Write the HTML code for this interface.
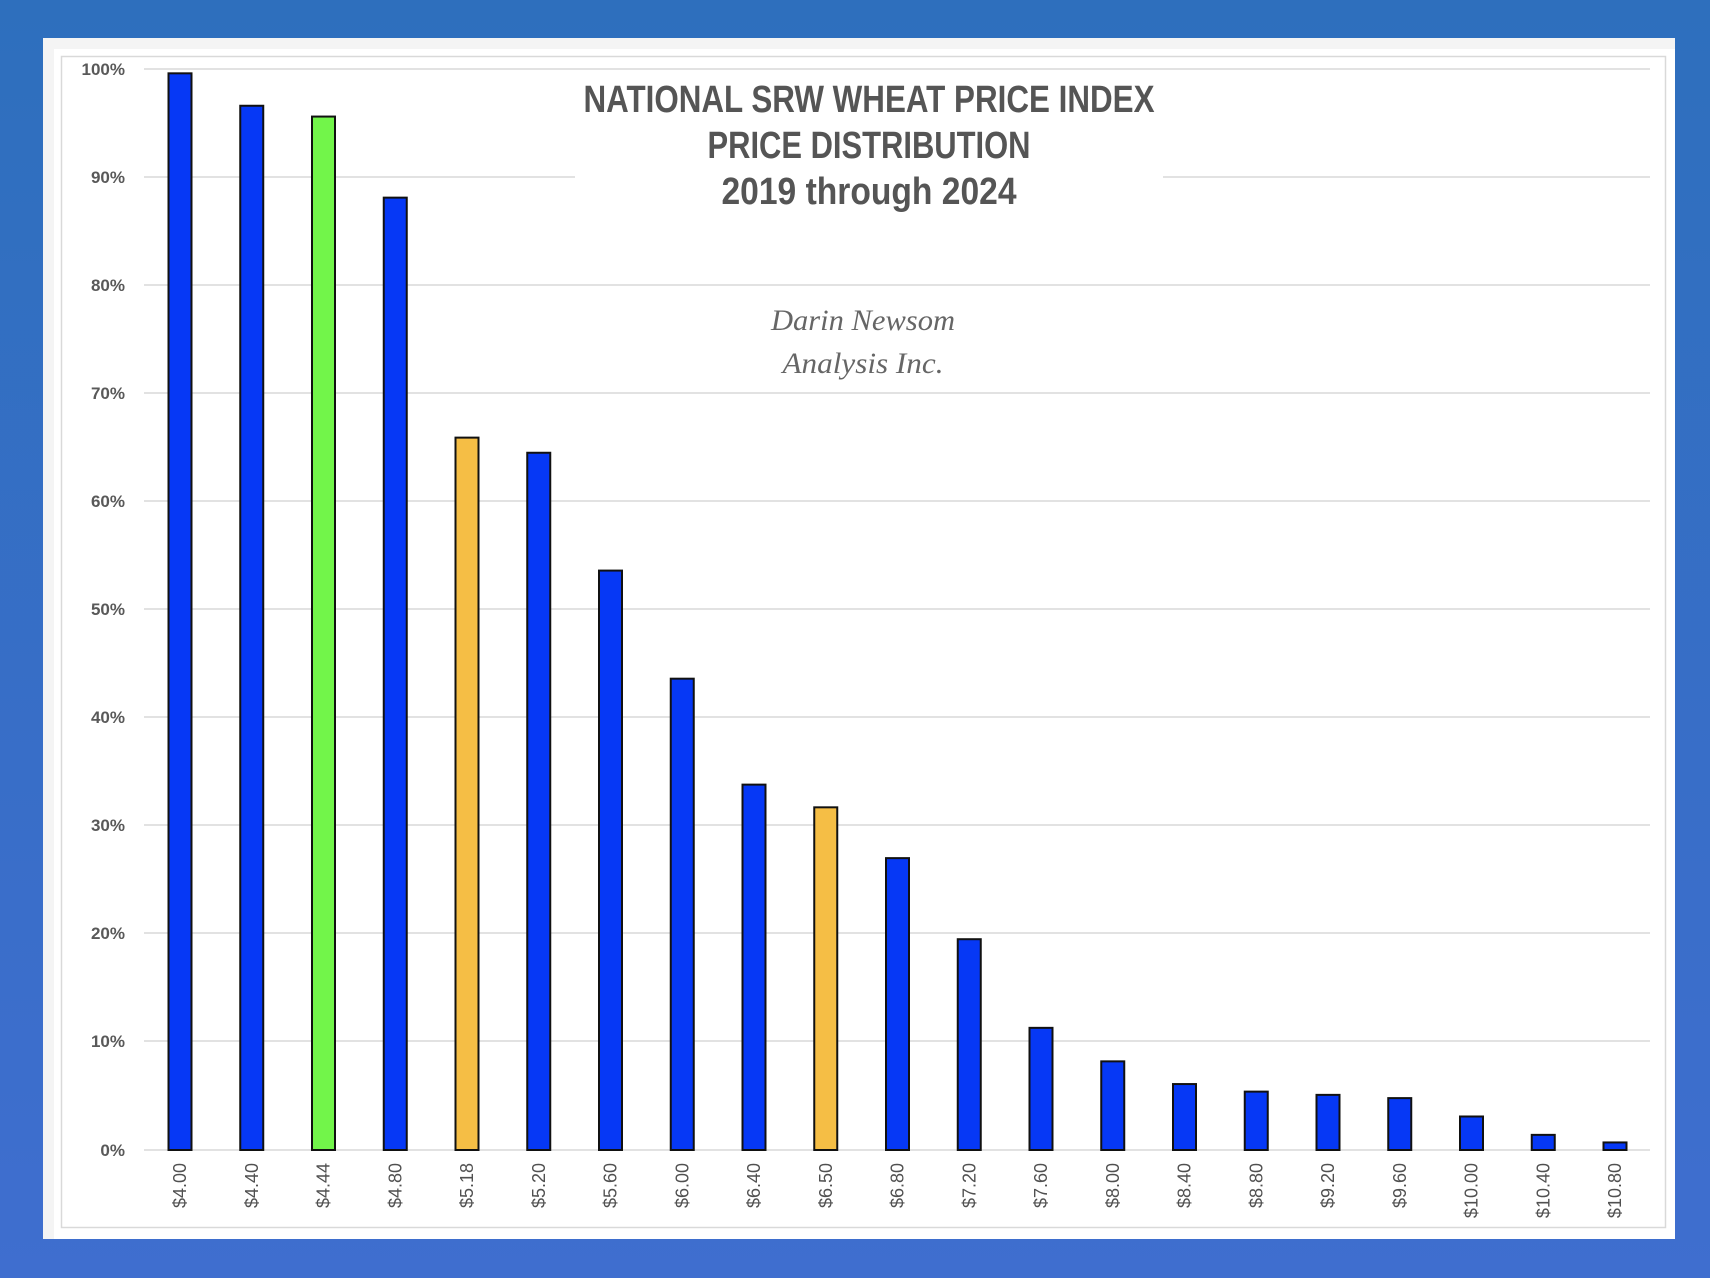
<!DOCTYPE html>
<html><head><meta charset="utf-8"><style>
html,body{margin:0;padding:0;}
body{width:1710px;height:1278px;background:linear-gradient(#2E6FBD,#3F6ECF);overflow:hidden;}
</style></head><body>
<svg width="1710" height="1278" xmlns="http://www.w3.org/2000/svg" style="position:absolute;left:0;top:0">
<rect x="43" y="38" width="1632" height="1201" fill="#f4f4f4"/>
<rect x="54" y="49" width="1621" height="1190" fill="#fff"/>
<rect x="61.5" y="56.5" width="1604" height="1171" fill="none" stroke="#d9d9d9" stroke-width="1.5"/>
<g stroke="#d9d9d9" stroke-width="1.5">
<line x1="144" x2="1650" y1="69" y2="69"/>
<line x1="144" x2="1650" y1="177" y2="177"/>
<line x1="144" x2="1650" y1="285" y2="285"/>
<line x1="144" x2="1650" y1="393" y2="393"/>
<line x1="144" x2="1650" y1="501" y2="501"/>
<line x1="144" x2="1650" y1="609" y2="609"/>
<line x1="144" x2="1650" y1="717" y2="717"/>
<line x1="144" x2="1650" y1="825" y2="825"/>
<line x1="144" x2="1650" y1="933" y2="933"/>
<line x1="144" x2="1650" y1="1041" y2="1041"/>
<line x1="144" x2="1650" y1="1150" y2="1150"/>
</g>
<rect x="575" y="160" width="588" height="40" fill="#fff"/>
<g font-family="Liberation Sans, sans-serif" font-weight="bold" font-size="17" fill="#595959" text-anchor="end">
<text x="125" y="75">100%</text><text x="125" y="183">90%</text><text x="125" y="291">80%</text>
<text x="125" y="399">70%</text><text x="125" y="507">60%</text><text x="125" y="615">50%</text>
<text x="125" y="723">40%</text><text x="125" y="831">30%</text><text x="125" y="939">20%</text>
<text x="125" y="1047">10%</text><text x="125" y="1156">0%</text>
</g>
<g id="bars" stroke="#111" stroke-width="2"></g>
<g id="xl" font-family="Liberation Sans, sans-serif" font-size="18" fill="#505050"></g>
<g font-family="Liberation Sans, sans-serif" font-weight="bold" fill="#555" text-anchor="middle" font-size="38">
<text x="869" y="112" textLength="571" lengthAdjust="spacingAndGlyphs">NATIONAL SRW WHEAT PRICE INDEX</text>
<text x="869" y="158" textLength="323" lengthAdjust="spacingAndGlyphs">PRICE DISTRIBUTION</text>
<text x="869" y="204" textLength="295" lengthAdjust="spacingAndGlyphs">2019 through 2024</text>
</g>
<g font-family="Liberation Serif, serif" font-style="italic" fill="#666" text-anchor="middle" font-size="30">
<text x="863" y="330" textLength="184" lengthAdjust="spacingAndGlyphs">Darin Newsom</text>
<text x="863" y="373" textLength="161" lengthAdjust="spacingAndGlyphs">Analysis Inc.</text>
</g>
</svg>
<script>
var v=[99.6,96.6,95.6,88.1,65.9,64.5,53.6,43.6,33.8,31.7,27.0,19.5,11.3,8.2,6.1,5.4,5.1,4.8,3.1,1.4,0.7];
var l=["$4.00","$4.40","$4.44","$4.80","$5.18","$5.20","$5.60","$6.00","$6.40","$6.50","$6.80","$7.20","$7.60","$8.00","$8.40","$8.80","$9.20","$9.60","$10.00","$10.40","$10.80"];
var b=document.getElementById('bars'),x=document.getElementById('xl'),ns="http://www.w3.org/2000/svg";
for(var i=0;i<21;i++){var cx=180+i*71.75,h=v[i]*10.81;
var r=document.createElementNS(ns,'rect');r.setAttribute('x',cx-11.5);r.setAttribute('y',1150-h);r.setAttribute('width',23);r.setAttribute('height',h);
r.setAttribute('fill',i==2?'#72F54A':(i==4||i==9)?'#F5BE45':'#0638F5');b.appendChild(r);
var t=document.createElementNS(ns,'text');t.textContent=l[i];t.setAttribute('text-anchor','end');
t.setAttribute('transform','translate('+(cx+6)+',1163) rotate(-90)');x.appendChild(t);}
</script>
</body></html>
